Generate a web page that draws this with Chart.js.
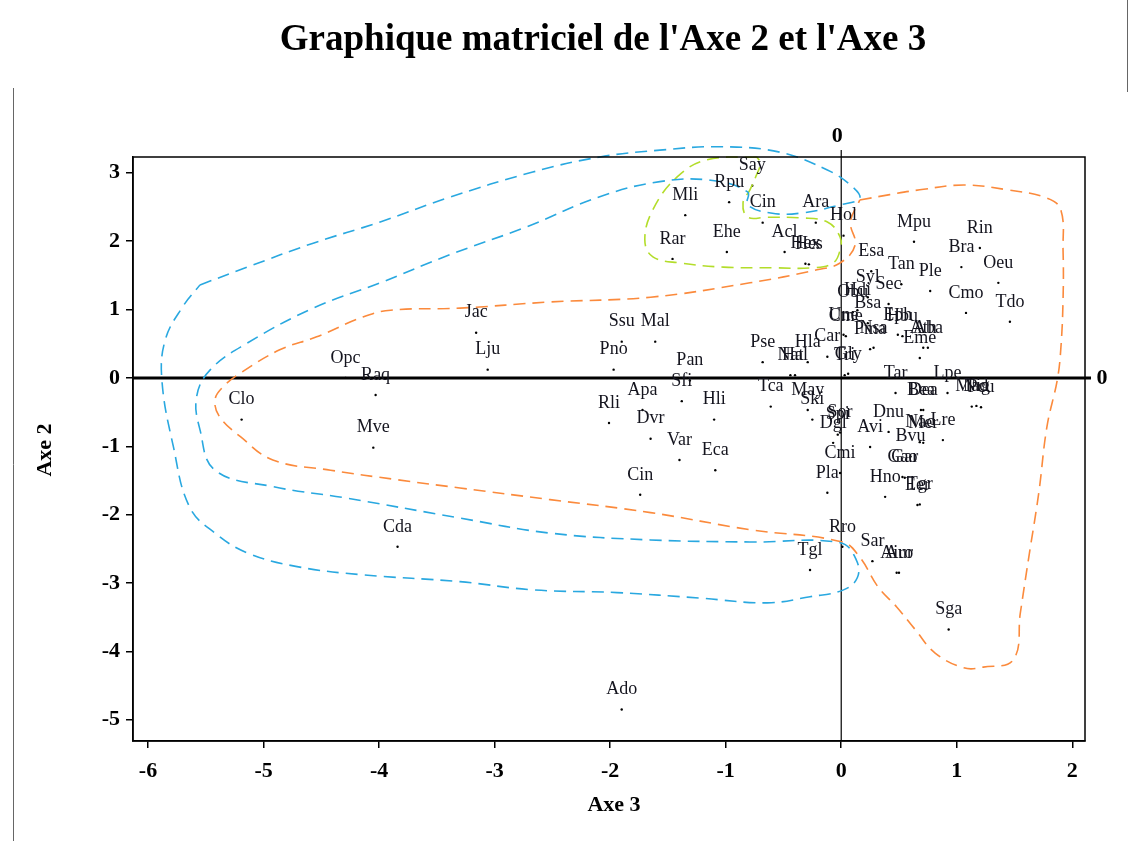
<!DOCTYPE html>
<html>
<head>
<meta charset="utf-8">
<script src="https://cdn.jsdelivr.net/npm/chart.js@4"></script>
<style>
  html, body { margin: 0; padding: 0; background: #fff; }
  #wrap { width: 1131px; height: 841px; position: relative; }
</style>
</head>
<body>
<div id="wrap"><canvas id="plot" width="1131" height="841"></canvas></div>
<script>
// codes des especes et coordonnees (Axe 3 en x, Axe 2 en y)
const codes = ['Say','Rpu','Mli','Cin','Ara','Hol','Rar','Ehe','Acl','Hex','Hes','Mpu','Rin','Bra','Oeu',
  'Esa','Tan','Ple','Cmo','Tdo','Syl','Sec','Obu','Hdi','Bsa','Une','Cme','Eph','Hbu','Nsa','Pma','Ath','Aba',
  'Eme','Car','Hla','Pse','Nat','Hal','Tri','Gly','Tar','Lpe','Dea','Bea','Mad','Nig','Pcu','Tca','May','Ski',
  'Spi','Sor','Dgl','Avi','Dnu','Lre','Mer','Nac','Bvu','Cmi','Gao','Gar','Pla','Hno','Eer','Tgr','Rro','Sar',
  'Airo','Aur','Tgl','Sga','Ado','Jac','Lju','Ssu','Mal','Pno','Pan','Sfi','Opc','Raq','Clo','Mve','Cda','Rli',
  'Apa','Hli','Dvr','Var','Eca','Cin'];
const axe3 = [-0.77,-0.97,-1.35,-0.68,-0.22,0.02,-1.46,-0.99,-0.49,-0.31,-0.28,0.63,1.20,1.04,1.36,
  0.26,0.52,0.77,1.08,1.46,0.23,0.41,0.10,0.14,0.23,0.02,0.04,0.49,0.53,0.28,0.25,0.71,0.75,
  0.68,-0.12,-0.29,-0.68,-0.44,-0.40,0.03,0.06,0.47,0.92,0.71,0.69,1.13,1.17,1.21,-0.61,-0.29,-0.25,
  -0.03,-0.01,-0.07,0.25,0.41,0.88,0.71,0.68,0.60,-0.01,0.53,0.55,-0.12,0.38,0.66,0.68,0.01,0.27,
  0.48,0.50,-0.27,0.93,-1.90,-3.16,-3.06,-1.90,-1.61,-1.97,-1.31,-1.38,-4.29,-4.03,-5.19,-4.05,-3.84,-2.01,
  -1.72,-1.10,-1.65,-1.40,-1.09,-1.74];
const axe2 = [2.81,2.57,2.38,2.27,2.27,2.08,1.74,1.84,1.84,1.67,1.66,1.99,1.90,1.62,1.39,
  1.56,1.37,1.27,0.95,0.82,1.18,1.08,0.96,0.99,0.80,0.63,0.61,0.63,0.61,0.44,0.42,0.44,0.44,
  0.29,0.31,0.23,0.23,0.04,0.04,0.04,0.06,-0.22,-0.22,-0.47,-0.47,-0.42,-0.41,-0.43,-0.42,-0.47,-0.61,
  -0.83,-0.80,-0.95,-1.01,-0.79,-0.91,-0.95,-0.94,-1.15,-1.39,-1.45,-1.46,-1.68,-1.74,-1.86,-1.85,-2.47,-2.68,
  -2.85,-2.85,-2.81,-3.68,-4.85,0.66,0.12,0.53,0.53,0.12,-0.04,-0.34,0.00,-0.25,-0.61,-1.02,-2.47,-0.66,
  -0.47,-0.61,-0.89,-1.20,-1.35,-1.71];

// contours des groupes (x = Axe 3, y = Axe 2)
const bleuX = [-5.55,-5.14,-4.57,-3.99,-3.41,-2.67,-2.09,-1.57,-1.05,-0.53,-0.12,0.08,0.16,-0.01,-0.35,-0.61,-0.81,-0.81,
  -1.13,-1.57,-2.09,-2.72,-3.39,-3.99,-4.57,-5.14,-5.46,-5.58,-5.55,-5.42,-4.92,-4.31,-3.30,-2.52,-1.65,-0.79,-0.01,
  0.13,0.14,0.02,-0.27,-0.64,-1.22,-1.94,-2.67,-3.30,-4.14,-4.71,-5.14,-5.42,-5.64,-5.78,-5.88,-5.85,-5.70,-5.55];
const bleuY = [1.36,1.62,1.97,2.28,2.63,3.01,3.23,3.33,3.38,3.30,3.04,2.82,2.63,2.53,2.41,2.41,2.53,2.72,
  2.89,2.87,2.65,2.21,1.80,1.39,1.02,0.51,0.12,-0.28,-0.76,-1.35,-1.59,-1.75,-2.05,-2.27,-2.37,-2.40,-2.41,
  -2.66,-2.92,-3.10,-3.20,-3.29,-3.22,-3.14,-3.10,-2.98,-2.88,-2.76,-2.56,-2.27,-1.89,-1.01,-0.03,0.56,1.04,1.36];
const orangeX = [0.16,0.42,0.68,1.06,1.44,1.78,1.90,1.92,1.92,1.90,1.87,1.78,1.71,1.62,1.55,1.49,1.23,1.06,0.81,
  0.64,0.48,0.32,0.16,0.01,-0.79,-1.65,-2.52,-3.30,-3.84,-4.42,-4.92,-5.20,-5.38,-5.42,-5.35,-5.20,-4.86,-4.54,
  -4.14,-3.90,-3.30,-2.52,-1.65,-0.79,-0.21,-0.01,0.12,0.08,0.16];
const orangeY = [2.60,2.68,2.75,2.82,2.75,2.63,2.46,1.87,1.14,0.41,-0.03,-0.72,-1.68,-2.66,-3.44,-4.12,-4.23,-4.24,-4.02,
  -3.68,-3.35,-3.06,-2.62,-2.40,-2.22,-1.97,-1.78,-1.61,-1.49,-1.35,-1.20,-0.86,-0.57,-0.32,-0.13,0.07,0.41,0.60,
  0.89,0.99,1.02,1.11,1.18,1.39,1.58,1.68,1.94,2.28,2.60];
const vertX = [-0.73,-1.16,-1.42,-1.63,-1.70,-1.63,-1.39,-1.02,-0.59,-0.24,-0.07,-0.01,-0.01,-0.12,-0.35,-0.64,-0.81,
  -0.85,-0.79,-0.74,-0.70,-0.73];
const vertY = [3.23,3.19,2.94,2.46,2.02,1.77,1.68,1.62,1.61,1.61,1.68,1.87,2.06,2.28,2.34,2.35,2.35,
  2.56,2.75,2.94,3.14,3.23];

const xTicks = [-6,-5,-4,-3,-2,-1,0,1,2];
const yTicks = [-5,-4,-3,-2,-1,0,1,2,3];

const serif = "'Liberation Serif', 'Times New Roman', serif";

function pts(xs, ys) {
    return xs.map((x, i) => ({ x: x, y: ys[i] }));
}

function contour(label, xs, ys, color) {
    return {
        type: 'line',
        label: label,
        data: pts(xs, ys),
        borderColor: color,
        borderWidth: 1.6,
        borderDash: [12, 7],
        pointRadius: 0,
        fill: false,
        tension: 0.4,
        clip: false
    };
}

// lignes du zero, textes et cadre
const decor = {
    id: 'decor',
    beforeDatasetsDraw(chart) {
        const { ctx, chartArea: a, scales } = chart;
        const y0 = scales.y.getPixelForValue(0);
        const x0 = scales.x.getPixelForValue(0);
        ctx.save();
        ctx.strokeStyle = '#000';
        ctx.lineWidth = 3;
        ctx.beginPath();
        ctx.moveTo(a.left, y0);
        ctx.lineTo(a.right + 6, y0);
        ctx.stroke();
        ctx.lineWidth = 1.2;
        ctx.beginPath();
        ctx.moveTo(x0, a.top - 7);
        ctx.lineTo(x0, a.bottom);
        ctx.stroke();
        ctx.restore();
    },
    afterDraw(chart) {
        const { ctx, chartArea: a, scales } = chart;
        const y0 = scales.y.getPixelForValue(0);
        const x0 = scales.x.getPixelForValue(0);
        ctx.save();
        ctx.strokeStyle = '#000';
        ctx.lineWidth = 1.5;
        ctx.strokeRect(a.left, a.top, a.right - a.left, a.bottom - a.top);

        ctx.strokeStyle = '#666';
        ctx.lineWidth = 1;
        ctx.beginPath();
        ctx.moveTo(13.5, 88);
        ctx.lineTo(13.5, 841);
        ctx.moveTo(1127.5, 0);
        ctx.lineTo(1127.5, 92);
        ctx.stroke();

        ctx.fillStyle = '#000';
        ctx.textAlign = 'center';
        ctx.textBaseline = 'middle';
        ctx.font = 'bold 37px ' + serif;
        ctx.fillText("Graphique matriciel de l'Axe 2 et l'Axe 3", 603, 40);

        ctx.font = 'bold 22px ' + serif;
        ctx.fillText('0', x0 - 4, a.top - 21);
        ctx.fillText('0', a.right + 17, y0);
        ctx.fillText('Axe 3', (a.left + a.right) / 2 + 5, 805);
        ctx.translate(45, 450);
        ctx.rotate(-Math.PI / 2);
        ctx.fillText('Axe 2', 0, 0);
        ctx.restore();
    }
};

// etiquettes des especes au-dessus des points
const etiquettes = {
    id: 'etiquettes',
    afterDatasetsDraw(chart) {
        const ctx = chart.ctx;
        const meta = chart.getDatasetMeta(3);
        ctx.save();
        ctx.font = '18px ' + serif;
        ctx.fillStyle = '#14141e';
        ctx.textAlign = 'center';
        ctx.textBaseline = 'middle';
        meta.data.forEach((el, i) => {
            ctx.fillText(codes[i], el.x, el.y - 20);
        });
        ctx.restore();
    }
};

const ctx = document.getElementById('plot').getContext('2d');
new Chart(ctx, {
    type: 'scatter',
    data: {
        datasets: [
            contour('Groupe 1', bleuX, bleuY, '#29a8e0'),
            contour('Groupe 2', orangeX, orangeY, '#fb8a3c'),
            contour('Groupe 3', vertX, vertY, '#b3dd2a'),
            {
                label: 'Especes',
                data: pts(axe3, axe2),
                backgroundColor: '#000',
                borderColor: '#000',
                pointRadius: 1.2,
                pointHoverRadius: 1.2,
                borderWidth: 0
            }
        ]
    },
    options: {
        animation: false,
        responsive: false,
        events: [],
        layout: { padding: { top: 157, right: 46, left: 0, bottom: 0 } },
        elements: { line: { capBezierPoints: false } },
        plugins: { legend: { display: false }, title: { display: false }, tooltip: { enabled: false } },
        scales: {
            x: {
                type: 'linear',
                min: -6.13,
                max: 2.11,
                afterBuildTicks: s => { s.ticks = xTicks.map(v => ({ value: v })); },
                afterFit: s => { s.height = 100; },
                grid: { drawOnChartArea: false, drawTicks: true, tickLength: 7, color: '#000', lineWidth: 1.5 },
                border: { display: true, color: '#000', width: 1.5 },
                ticks: { font: { family: serif, size: 22, weight: 'bold' }, color: '#000', padding: 10, maxRotation: 0, autoSkip: false }
            },
            y: {
                type: 'linear',
                min: -5.31,
                max: 3.23,
                afterBuildTicks: s => { s.ticks = yTicks.map(v => ({ value: v })); },
                afterFit: s => { s.width = 133; },
                grid: { drawOnChartArea: false, drawTicks: true, tickLength: 7, color: '#000', lineWidth: 1.5 },
                border: { display: true, color: '#000', width: 1.5 },
                ticks: { font: { family: serif, size: 22, weight: 'bold' }, color: '#000', padding: 6, autoSkip: false }
            }
        }
    },
    plugins: [decor, etiquettes]
});
</script>
</body>
</html>
